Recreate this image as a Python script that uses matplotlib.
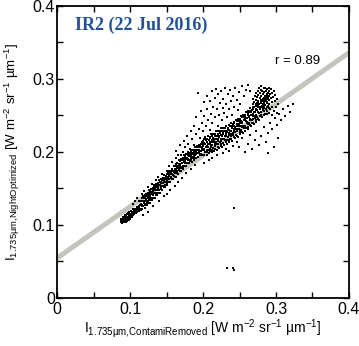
import numpy as np
import matplotlib
matplotlib.use("Agg")
import matplotlib.pyplot as plt

plt.rcParams['font.family'] = ['Liberation Sans', 'DejaVu Sans']
plt.rcParams['mathtext.default'] = 'regular'

# ---- data (values in thousandths of W m-2 sr-1 um-1) ----
start_pts = [
    (87,103),(88,105),(88,108),(89,102),(89,104),(89,107),(90,103),(90,106),(90,109),(91,104),
    (91,105),(91,108),(91,111),(92,103),(92,106),(92,109),(93,105),(93,107),(93,110),(93,113),
    (94,104),(94,108),(94,111),(95,106),(95,109),(95,112),(96,105),(96,107),(96,110),(96,114),
    (97,108),(97,111),(97,116),(98,107),(98,110),(98,113),(99,109),(99,112),(99,117),(100,108),
    (100,111),(100,114),(101,110),(101,113),(101,119),(102,112),(102,115),(103,111),(103,117),
    (104,113),(104,116),(104,121),(105,115),(105,118),(106,114),(106,119),(107,117),(107,122),
    (108,116),(108,120),(109,119),(109,124),(110,118),(110,122),(111,121),(112,119),(112,125),
    (113,123),(114,121),(114,127),
]

band1_x = list(range(115, 200))
band1_y = [
    (120,128,133),(125,132,136),(121,127,132),(125,132,139),(130,136,138),(123,128,132),
    (127,136,139),(132,135,142),(127,130,139),(132,136,143),(130,139,142),(135,137,147),
    (130,142,145),(134,138,141),(136,145,149),(134,142,144),(141,146,150),(137,140,149),
    (144,147,154),(137,143,150),(141,148,153),(144,147,156),(141,151,152),(147,155,157),
    (144,149,151),(147,155,161),(144,154,159),(152,153,158),(149,157,163),(148,153,161),
    (153,157,164),(151,161,162),(158,160,168),(151,155,162),(158,165,167),(156,161,170),
    (155,163,166),(159,166,171),(163,170,174),(159,162,167),(158,170,172),(164,166,174),
    (163,170,177),(169,174,177),(163,168,173),(167,172,181),(166,175,177),(171,173,180),
    (166,176,183),(174,179,181),(171,173,184),(170,178,180),(175,183,188),(173,178,183),
    (180,182,187),(173,179,190),(178,185,188),(179,181,191),(177,188,189),(180,186,195),
    (185,186,189),(181,192,194),(180,185,197),(185,190,192),(184,195,197),(189,190,200),
    (184,194,196),(187,189,198),(190,193,201),(187,195,199),(186,198,202),(191,193,197),
    (189,194,202),(192,198,200),(195,201,207),(192,197,203),(191,200,207),(198,202,208),
    (193,202,206),(199,201,209),(198,202,206),(196,206,209),(197,201,211),(196,206,210),
    (203,205,213),
]

band2_x = list(range(200, 291))
band2_y = [
    (196,208,215),(202,212,218),(195,204,211),(199,210,220),(206,216,218),(195,202,208),
    (200,213,218),(206,211,221),(198,202,216),(204,210,220),(201,214,219),(207,209,224),
    (199,216,221),(203,209,214),(205,219,225),(201,213,216),(211,218,224),(204,208,222),
    (213,218,228),(202,211,221),(207,218,225),(211,215,229),(205,220,221),(214,226,228),
    (208,215,218),(211,223,232),(207,222,229),(217,218,226),(212,224,233),(209,217,229),
    (216,222,232),(213,227,229),(221,225,236),(211,216,227),(220,230,233),(216,223,237),
    (214,226,230),(218,229,236),(224,235,240),(217,221,229),(215,232,236),(223,226,238),
    (220,231,241),(228,236,240),(219,227,234),(223,231,244),(222,235,238),(229,231,242),
    (220,235,245),(231,238,242),(226,229,245),(224,236,239),(230,242,249),(227,234,241),
    (236,240,247),(226,235,251),(232,243,248),(232,236,250),(229,245,247),(233,242,255),
    (240,241,246),(234,250,253),(231,238,256),(239,247,249),(237,254,256),(244,245,260),
    (236,251,254),(240,244,257),(245,249,261),(240,252,258),(238,255,261),(246,249,255),
    (243,258,265),(241,251,257),(248,257,263),(245,255,267),(254,262,264),(243,253,266),
    (249,259,261),(254,262,271),(250,255,267),(248,263,269),(257,260,272),(251,263,267),
    (256,260,272),(252,264,271),(259,269,275),(252,261,268),(256,267,277),(263,273,275),
    (253,260,266),
]

upper_pts = [
    (268,266),(269,272),(270,268),(271,277),(272,263),(272,271),(273,281),(274,267),(274,275),
    (275,284),(276,270),(276,278),(277,265),(277,287),(278,274),(278,281),(279,268),(279,285),
    (280,277),(280,290),(281,271),(281,283),(282,266),(282,279),(283,287),(283,274),(284,282),
    (284,269),(285,277),(285,288),(286,272),(286,283),(287,279),(287,267),(288,286),(288,274),
    (289,281),(290,276),(290,288),(291,271),(291,283),(292,279),(293,274),(293,286),(294,268),
    (295,281),(296,275),(297,284),(298,270),(299,278),(301,273),(303,266),(295,262),(292,258),
    (297,256),(300,262),(302,253),(294,250),
]

spray_pts = [
    (163,201),(166,196),(169,209),(172,200),(174,215),(176,206),(178,221),(180,211),(182,204),
    (183,228),(185,217),(187,236),(188,209),(190,224),(191,247),(193,281),(194,231),(196,219),
    (197,256),(198,240),(200,228),(201,268),(202,249),(204,235),(205,277),(206,258),(207,243),
    (209,230),(209,269),(211,252),(212,283),(213,240),(214,262),(216,274),(217,247),(218,286),
    (219,259),(220,236),(221,279),(222,251),(223,267),(225,283),(226,244),(227,260),(228,273),
    (229,253),(230,288),(232,266),(233,248),(234,279),(236,259),(237,285),(238,269),(240,251),
    (241,277),(243,262),(244,288),(246,271),(248,257),(249,282),(251,266),(253,290),(256,277),
    (259,285),(262,291),(265,283),
    (104,128),(107,132),(110,137),(113,133),(116,142),(119,146),(121,140),(124,152),(127,148),
    (130,156),(133,151),(136,161),(139,166),(141,158),(144,169),(147,164),(150,174),(153,180),
    (156,171),(158,186),(161,181),(163,192),(167,189),(170,196),
    (246,213),(249,206),(253,219),(257,200),(261,211),(264,223),(267,204),(271,216),(273,228),
    (277,209),(280,221),(283,234),(286,213),(289,226),(292,240),(295,231),(298,246),(301,237),
    (304,252),(307,243),(310,258),(313,249),(316,263),(319,255),(323,266),(303,219),(297,206),
    (289,198),(227,198),(219,195),(213,192),(232,204),(208,188),(201,185),(236,201),(241,208),
    (140,133),(146,139),(151,142),(155,148),(161,153),(166,159),(171,164),(177,171),(183,177),
    (189,182),(131,125),(124,118),(118,113),
]

outlier_pts = [(242,123),(233,41),(241,40),(243,38)]

fit_x = [0.0, 0.4]
fit_y = [0.054, 0.336]
r_text = "r = 0.89"
title_text = "IR2 (22 Jul 2016)"
tick_vals = [0, 0.1, 0.2, 0.3, 0.4]
tick_labels = ['0', '0.1', '0.2', '0.3', '0.4']
minor_vals = [0.05, 0.15, 0.25, 0.35]

# ---- assemble points ----
def to_arrays(pts):
    a = np.array(pts, dtype=float) / 1000.0
    return a[:, 0], a[:, 1]

bx, by = [], []
for cx, cy in ((band1_x, band1_y), (band2_x, band2_y)):
    for x, col in zip(cx, cy):
        for y in col:
            bx.append(x); by.append(y)
bx = np.array(bx) / 1000.0
by = np.array(by) / 1000.0
sx, sy = to_arrays(start_pts + upper_pts)
px, py = to_arrays(spray_pts + outlier_pts)

fig = plt.figure(figsize=(3.59, 3.46), dpi=100)
ax = fig.add_axes([57/359, 48.5/346, 292/359, 291.5/346])

ax.plot(fit_x, fit_y, color='#c4c4bc', lw=3.6, solid_capstyle='butt', zorder=1)
ax.scatter(bx, by, s=2.2, marker='s', c='black', linewidths=0, zorder=2)
ax.scatter(sx, sy, s=2.0, marker='s', c='black', linewidths=0, zorder=2)
ax.scatter(px, py, s=1.4, marker='s', c='black', linewidths=0, zorder=2)

ax.set_xlim(0, 0.4)
ax.set_ylim(0, 0.4)
ax.set_xticks(tick_vals)
ax.set_yticks(tick_vals)
ax.set_xticklabels(tick_labels)
ax.set_yticklabels(tick_labels)
ax.set_xticks(minor_vals, minor=True)
ax.set_yticks(minor_vals, minor=True)
for which in ('major', 'minor'):
    ax.tick_params(axis='both', which=which, direction='in', length=4, width=1.0,
                   top=True, right=True, labelsize=11.5)
ax.tick_params(axis='y', which='major', pad=1.5)
ax.tick_params(axis='x', which='major', pad=3)
for sp in ax.spines.values():
    sp.set_linewidth(1.3)

ax.set_xlabel(r'I$_{1.735µm{,}ContamiRemoved}$ [W m$^{-2}$ sr$^{-1}$ µm$^{-1}$]', fontsize=10)
ax.set_ylabel(r'I$_{1.735µm{,}NightOptimized}$ [W m$^{-2}$ sr$^{-1}$ µm$^{-1}$]', fontsize=9.6)
ax.xaxis.set_label_coords(0.5, -0.068)
ax.yaxis.set_label_coords(-0.12, 0.5)

ax.text(0.025, 0.373, title_text, fontsize=13, fontweight='bold', color='#22509a',
        family=['Liberation Serif', 'DejaVu Serif'], va='center', ha='left')
ax.text(0.299, 0.325, r_text, fontsize=9.5, va='center', ha='left')

fig.savefig('out.png', dpi=100)
